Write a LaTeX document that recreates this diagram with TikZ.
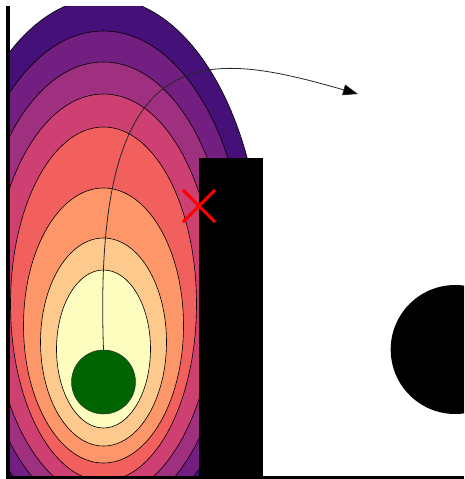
\documentclass[tikz,border=0pt]{standalone}
\usetikzlibrary{arrows.meta}
\definecolor{mgA}{HTML}{451077}
\definecolor{mgB}{HTML}{721F81}
\definecolor{mgC}{HTML}{9F2F7F}
\definecolor{mgD}{HTML}{CD4071}
\definecolor{mgE}{HTML}{F1605D}
\definecolor{mgF}{HTML}{FD9668}
\definecolor{mgG}{HTML}{FEC98D}
\definecolor{mgH}{HTML}{FCFDBF}
\definecolor{robotgreen}{HTML}{006400}
\begin{document}
\begin{tikzpicture}[x=1pt,y=-1pt,
  contour/.style={draw=black, line width=0.6pt},
  wallbox/.style={fill=black, draw=none, inner sep=0pt, minimum width=64pt, minimum height=318pt, anchor=north west},
  obsbox/.style={circle, fill=black, draw=none, inner sep=0pt, minimum size=129pt},
  robotbox/.style={circle, fill=robotgreen, draw=black!80, line width=0.5pt, inner sep=0pt, minimum size=64pt},
  flow/.style={draw=black!85, line width=0.8pt, -{Triangle[length=15pt,width=11pt,fill=black]}},
  hitmark/.style={draw=red, line width=3pt},
  spine/.style={draw=black, line width=3.6pt}]
\useasboundingbox (0,0) rectangle (464,479);
\begin{scope}
  \clip (10,6) rectangle (464,476);
  \path[contour, fill=mgA] (103.5,278) ellipse [x radius=159pt, y radius=280pt];
  \path[contour, fill=mgB] (103.5,282) ellipse [x radius=143pt, y radius=251pt];
  \path[contour, fill=mgC] (103.5,289) ellipse [x radius=127pt, y radius=227pt];
  \path[contour, fill=mgD] (103.5,296) ellipse [x radius=111pt, y radius=202pt];
  \path[contour, fill=mgE] (103.5,304) ellipse [x radius=93pt, y radius=177pt];
  \path[contour, fill=mgF] (103.5,325.5) ellipse [x radius=80pt, y radius=137.5pt];
  \path[contour, fill=mgG] (103.5,342) ellipse [x radius=63pt, y radius=104pt];
  \path[contour, fill=mgH] (103.5,349) ellipse [x radius=47pt, y radius=79pt];
  \node[obsbox] (obs) at (455.2,349.5) {};
\end{scope}
\node[robotbox] (robot) at (103.5,382) {};
\coordinate (c1) at (92,32);
\coordinate (c2) at (205,50);
\coordinate (tip) at (358,94);
\draw[flow] (robot.north) .. controls (c1) and (c2) .. (tip);
\node[wallbox] (wall) at (199,158) {};
\coordinate (hit) at (199,206);
\draw[hitmark] (hit) ++(-16,-16) -- ++(32,32);
\draw[hitmark] (hit) ++(-16,16) -- ++(32,-32);
\draw[spine] (8,6) -- (8,479);
\draw[spine] (6,477.5) -- (464,477.5);
\end{tikzpicture}
\end{document}
